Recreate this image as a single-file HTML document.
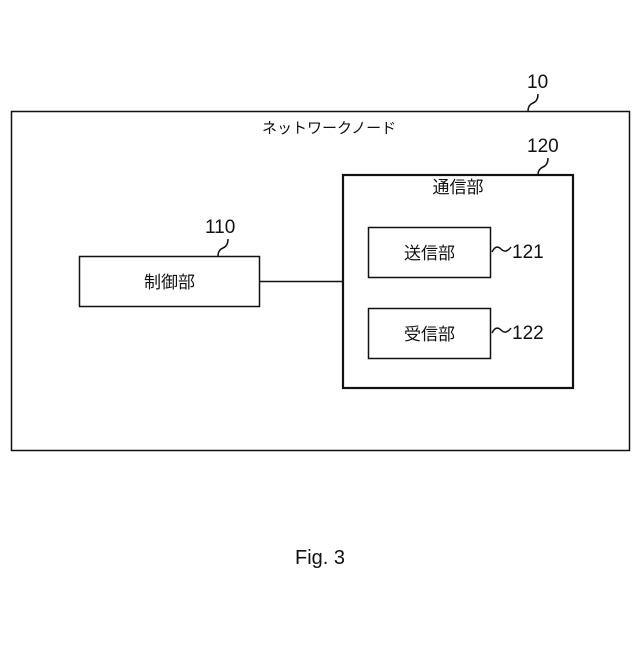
<!DOCTYPE html>
<html><head><meta charset="utf-8"><style>
html,body{margin:0;padding:0;background:#fff;}
svg text{font-family:"Liberation Sans","Noto Sans CJK JP",sans-serif;fill:#111;}
</style></head><body>
<svg width="640" height="640" viewBox="0 0 640 640" xmlns="http://www.w3.org/2000/svg">
<g fill="none" stroke="#111">
<rect x="11.5" y="111.5" width="618" height="339" stroke-width="1.5"/>
<rect x="343" y="175" width="230" height="213" stroke-width="2.2"/>
<rect x="368.5" y="227.5" width="122" height="50" stroke-width="1.5"/>
<rect x="368.5" y="308.5" width="122" height="50" stroke-width="1.5"/>
<rect x="79.5" y="256.5" width="180" height="50" stroke-width="1.5"/>
<line x1="259" y1="281.5" x2="343" y2="281.5" stroke-width="1.5"/>
<path d="M528 111 q0-6 5-8 q5-2 5-9" stroke-width="1.5"/>
<path d="M538 175 q0-6 5-8 q5-2 5-9" stroke-width="1.5"/>
<path d="M218 256 q0-6 5-8 q5-2 5-9" stroke-width="1.5"/>
<path d="M492 252 q4-8 9-3 q5 5 10-2" stroke-width="1.5"/>
<path d="M492 333 q4-8 9-3 q5 5 10-2" stroke-width="1.5"/>
</g>
<text x="527" y="88" font-size="19">10</text>
<text x="527" y="152" font-size="19">120</text>
<text x="205" y="233" font-size="19">110</text>
<text x="512" y="258" font-size="19">121</text>
<text x="512" y="339" font-size="19">122</text>
<text x="262" y="133" font-size="15">ネットワークノード</text>
<text x="458" y="193" font-size="17" text-anchor="middle">通信部</text>
<text x="429.5" y="259" font-size="17" text-anchor="middle">送信部</text>
<text x="429.5" y="340" font-size="17" text-anchor="middle">受信部</text>
<text x="169.5" y="288" font-size="17" text-anchor="middle">制御部</text>
<text x="320" y="564" font-size="20" text-anchor="middle">Fig. 3</text>
</svg>
</body></html>
